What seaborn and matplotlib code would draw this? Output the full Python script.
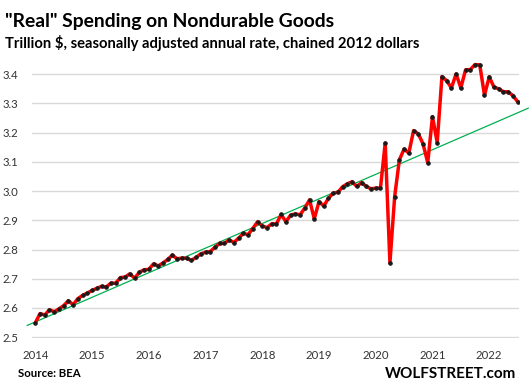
"""
Real spending on nondurable goods, monthly 2014 - Jul 2022, with a straight trend line.
"""

import numpy as np
import pandas as pd
import matplotlib
matplotlib.use('Agg')
import matplotlib.pyplot as plt
import seaborn as sns

# tick labels (January of each year)
years = ['2014', '2015', '2016', '2017', '2018', '2019', '2020', '2021', '2022']
y_ticks = [2.5, 2.6, 2.7, 2.8, 2.9, 3.0, 3.1, 3.2, 3.3, 3.4]

# trillion $, SAAR, chained 2012 dollars, Jan 2014 .. Jul 2022
spending = [
    2.549, 2.581, 2.576, 2.594, 2.587, 2.597, 2.608, 2.625, 2.611, 2.632, 2.643, 2.651,  # 2014
    2.660, 2.667, 2.674, 2.672, 2.685, 2.685, 2.704, 2.706, 2.717, 2.702, 2.722, 2.731,  # 2015
    2.732, 2.751, 2.744, 2.754, 2.766, 2.781, 2.768, 2.771, 2.770, 2.763, 2.773, 2.785,  # 2016
    2.791, 2.793, 2.808, 2.821, 2.821, 2.833, 2.824, 2.839, 2.855, 2.851, 2.872, 2.895,  # 2017
    2.881, 2.875, 2.888, 2.888, 2.920, 2.895, 2.918, 2.922, 2.919, 2.942, 2.970, 2.905,  # 2018
    2.964, 2.949, 2.975, 2.993, 2.996, 3.015, 3.025, 3.032, 3.016, 3.029, 3.016, 3.008,  # 2019
    3.010, 3.011, 3.164, 2.754, 2.981, 3.107, 3.144, 3.130, 3.207, 3.196, 3.162, 3.097,  # 2020
    3.255, 3.166, 3.392, 3.378, 3.353, 3.401, 3.353, 3.415, 3.416, 3.433, 3.432, 3.328,  # 2021
    3.391, 3.356, 3.350, 3.340, 3.340, 3.327, 3.306,                                     # 2022
]

# trend line end points (month index from Jan 2014, value)
trend_months = [-1.75, 104.3]
trend_values = [2.540, 3.284]

df = pd.DataFrame({'month': np.arange(len(spending)), 'spending': spending})

sns.set_style('white')
plt.rcParams['font.family'] = ['Lato', 'DejaVu Sans']

W, H = 529, 387
fig = plt.figure(figsize=(W / 100, H / 100), dpi=100)
ax = fig.add_axes([32 / W, 1 - 337.5 / H, (519 - 32) / W, (337.5 - 59.6) / H])

# trend line runs past the plot area on both ends
ax.plot(trend_months, trend_values, color='#00b050', linewidth=0.9, clip_on=False, zorder=2)

sns.lineplot(data=df, x='month', y='spending', ax=ax, color='#ff0000', linewidth=2.5,
             marker='o', markersize=2.5, markerfacecolor='#1a1a1a', markeredgecolor='#1a1a1a',
             zorder=3)

ax.set_xlim(-0.7, 102.3)
ax.set_ylim(2.499, 3.45)
ax.set_xticks(np.arange(len(years)) * 12)
ax.set_xticklabels(years)
ax.set_yticks(y_ticks)
ax.set_yticklabels([f'{v:.1f}' for v in y_ticks])
ax.set_xlabel('')
ax.set_ylabel('')

ax.yaxis.grid(True, color='#d9d9d9', linewidth=1.0)
ax.xaxis.grid(False)
for s in ax.spines.values():
    s.set_visible(False)
ax.tick_params(axis='both', length=0, labelsize=8.2, labelcolor='#333333')
ax.tick_params(axis='y', pad=10)
ax.tick_params(axis='x', pad=9)

fig.text(5 / W, 1 - 27.3 / H, '"Real" Spending on Nondurable Goods', fontsize=13.9,
         fontweight='bold', ha='left', va='baseline', color='black')
fig.text(5 / W, 1 - 48.3 / H, 'Trillion $, seasonally adjusted annual rate, chained 2012 dollars',
         fontsize=10.6, fontweight='bold', ha='left', va='baseline', color='black')
fig.text(18 / W, 1 - 377.3 / H, 'Source: BEA', fontsize=8.2, fontweight='bold',
         ha='left', va='baseline', color='black')
fig.text(516 / W, 1 - 377.7 / H, 'WOLFSTREET.com', fontsize=11, fontweight='bold',
         ha='right', va='baseline', color='black')

fig.savefig('out.png', dpi=100)
